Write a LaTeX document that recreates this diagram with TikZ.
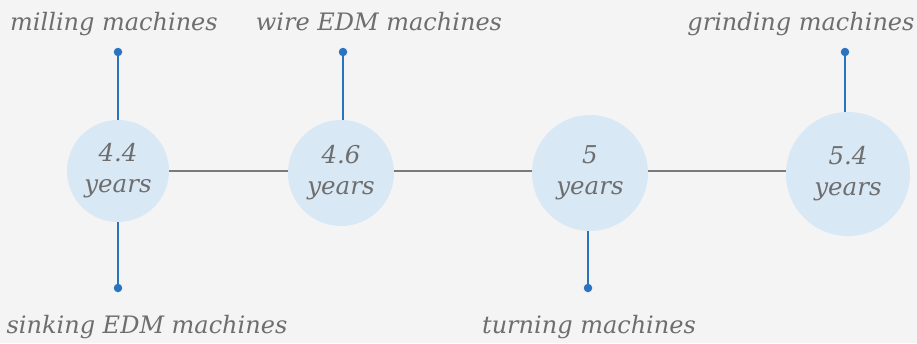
\documentclass[tikz,border=0pt]{standalone}
\usepackage{fontspec}
\setmainfont{DejaVu Serif}
\usetikzlibrary{backgrounds}
\definecolor{bg}{HTML}{F4F4F4}
\definecolor{circ}{HTML}{D9E8F5}
\definecolor{txt}{HTML}{6E6E6E}
\definecolor{blu}{HTML}{2A74BF}
\definecolor{gline}{HTML}{7A7A7A}
\tikzset{
  yr/.style={circle, fill=circ, inner sep=0pt, text=txt, align=center,
    font=\fontsize{24.5}{31}\selectfont\itshape},
  lbl/.style={anchor=base, text=txt, inner sep=0pt, font=\fontsize{24}{28}\selectfont\itshape},
  dot/.style={circle, fill=blu, inner sep=0pt, minimum size=8.5pt},
  stem/.style={draw=blu, line width=2pt},
  axis/.style={draw=gline, line width=2pt}
}
\begin{document}
\begin{tikzpicture}[x=1pt,y=-1pt]
\useasboundingbox (0,0) rectangle (917,343);
\node[yr, minimum size=102pt] (c1) at (118,171) {4.4\\years};
\node[yr, minimum size=106pt] (c2) at (341,173) {4.6\\years};
\node[yr, minimum size=116pt] (c3) at (590,173) {5\\years};
\node[yr, minimum size=124pt] (c4) at (848,174) {5.4\\years};
\begin{scope}[on background layer]
\fill[bg] (0,0) rectangle (917,343);
\draw[axis] (c1.center) -- (c4.center |- c1.center);
\end{scope}
\node[dot] (d1) at (118,52) {};
\node[dot] (d2) at (118,288) {};
\node[dot] (d3) at (343,52) {};
\node[dot] (d4) at (588,288) {};
\node[dot] (d5) at (845,52) {};
\draw[stem] (d1.center) -- (c1.north);
\draw[stem] (d2.center) -- (c1.south);
\draw[stem] (d3.center) -- (d3.center |- c2.north);
\draw[stem] (d4.center) -- (d4.center |- c3.south);
\draw[stem] (d5.center) -- (d5.center |- c4.north);
\node[lbl] (l1) at (114,30) {milling machines};
\node[lbl] (l2) at (379,30) {wire EDM machines};
\node[lbl] (l3) at (801,30) {grinding machines};
\node[lbl] (l4) at (147,333) {sinking EDM machines};
\node[lbl] (l5) at (589,333) {turning machines};
\end{tikzpicture}
\end{document}
